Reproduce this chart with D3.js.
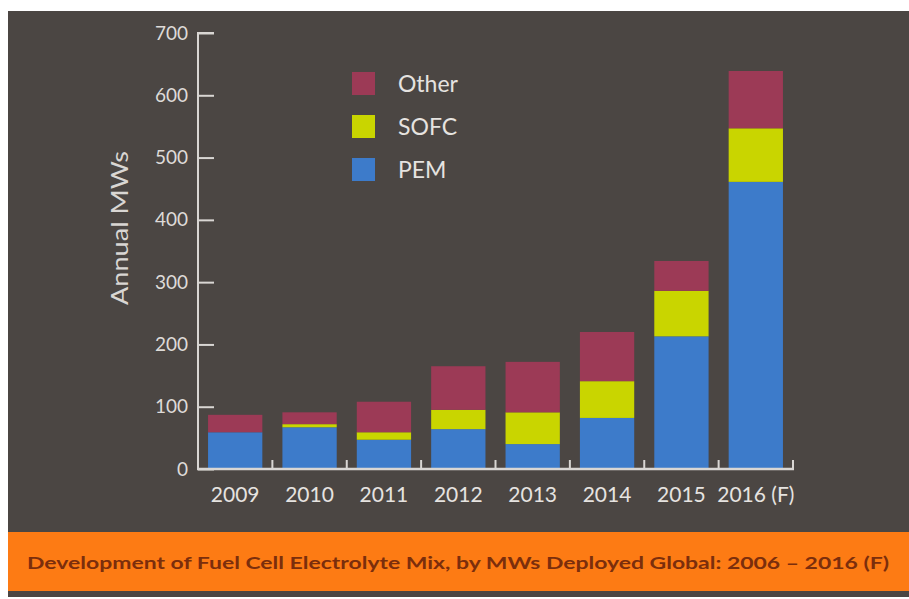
<!DOCTYPE html>
<html lang="en">
<head>
  <meta charset="utf-8">
  <title>Fuel Cell Electrolyte Mix</title>
  <script src="https://d3js.org/d3.v7.min.js"></script>
  <style type="text/css">
    body { margin: 0; background: #fff; }
    svg text { font-family: "Lato", "Open Sans", sans-serif; }
  </style>
</head>
<body>
  <div id="chart"></div>
  <script type="text/javascript">
    // data (MW per year)
    const years = ["2009", "2010", "2011", "2012", "2013", "2014", "2015", "2016 (F)"];
    const pem   = [59, 67, 47, 64, 40, 82, 213, 461];
    const sofc  = [0, 5, 12, 31, 51, 59, 73, 86];
    const other = [28, 19, 49, 70, 81, 79, 48, 92];
    const seriesNames = ["PEM", "SOFC", "Other"];
    const yTicks = [0, 100, 200, 300, 400, 500, 600, 700];
    const title = "Development of Fuel Cell Electrolyte Mix, by MWs Deployed Global: 2006 \u2013 2016 (F)";

    const w = 909, h = 599;
    const color = d3.scaleOrdinal()
        .domain(seriesNames)
        .range(["#3d7bca", "#c9d500", "#9c3a56"]);

    const rows = years.map((y, i) => ({ year: y, PEM: pem[i], SOFC: sofc[i], Other: other[i] }));
    const stacked = d3.stack().keys(seriesNames)(rows);

    const svg = d3.select("#chart").append("svg")
        .attr("width", w)
        .attr("height", h);

    // background panel + orange banner
    svg.append("rect").attr("x", 8).attr("y", 11).attr("width", w - 8).attr("height", 586)
        .attr("fill", "#4b4643");
    svg.append("rect").attr("x", 8).attr("y", 532).attr("width", w - 8).attr("height", 59)
        .attr("fill", "#fd7b14");

    const x = d3.scaleBand()
        .domain(years)
        .range([198, 793])
        .paddingInner(0.27)
        .paddingOuter(0.135);

    const y = d3.scaleLinear()
        .domain([0, 700])
        .range([469, 33]);

    // bars
    svg.selectAll("g.layer")
        .data(stacked)
        .enter().append("g")
        .attr("class", "layer")
        .attr("fill", d => color(d.key))
        .selectAll("rect")
        .data(d => d)
        .enter().append("rect")
        .attr("x", d => x(d.data.year))
        .attr("width", x.bandwidth())
        .attr("y", d => y(d[1]))
        .attr("height", d => y(d[0]) - y(d[1]));

    // y axis, ticks pointing inward
    const leftAxis = d3.axisRight(y).tickValues(yTicks).tickSize(16).tickPadding(-26);
    const gy = svg.append("g")
        .attr("transform", "translate(198,0)")
        .call(leftAxis);
    gy.selectAll("line, path").attr("stroke", "#d9d6d3").attr("stroke-width", 2);
    gy.select("path").attr("d", "M16,33H0V469");
    gy.selectAll("text")
        .attr("text-anchor", "end")
        .attr("fill", "#dedbd8")
        .style("font-size", "19px");

    // x axis, ticks between bands pointing up
    const gx = svg.append("g")
        .attr("transform", "translate(0,469)");
    gx.append("line")
        .attr("x1", 197).attr("x2", 794)
        .attr("stroke", "#d9d6d3").attr("stroke-width", 2.5);
    gx.selectAll("line.sep")
        .data(years)
        .enter().append("line")
        .attr("class", "sep")
        .attr("x1", (d, i) => 198 + x.step() * (i + 1))
        .attr("x2", (d, i) => 198 + x.step() * (i + 1))
        .attr("y1", 0).attr("y2", -9)
        .attr("stroke", "#d9d6d3").attr("stroke-width", 2);
    gx.selectAll("text")
        .data(years)
        .enter().append("text")
        .attr("x", d => x(d) + x.bandwidth() / 2)
        .attr("y", 33)
        .attr("text-anchor", "middle")
        .attr("fill", "#e6e3e0")
        .style("font-size", "21px")
        .text(d => d);

    // y label
    svg.append("text")
        .attr("transform", "translate(128,228) rotate(-90)")
        .attr("text-anchor", "middle")
        .attr("fill", "#d9d6d3")
        .attr("textLength", 154)
        .attr("lengthAdjust", "spacingAndGlyphs")
        .style("font-size", "24px")
        .text("Annual MWs");

    // legend
    const legend = svg.selectAll(".legend")
        .data(["Other", "SOFC", "PEM"])
        .enter().append("g")
        .attr("class", "legend")
        .attr("transform", (d, i) => `translate(352,${72 + i * 43})`);
    legend.append("rect")
        .attr("width", 23)
        .attr("height", 23)
        .attr("fill", d => color(d));
    legend.append("text")
        .attr("x", 46)
        .attr("y", 12)
        .attr("dy", ".35em")
        .attr("fill", "#e6e3e0")
        .style("font-size", "23px")
        .text(d => d);

    // banner title
    svg.append("text")
        .attr("x", 458)
        .attr("y", 563)
        .attr("dy", ".35em")
        .attr("text-anchor", "middle")
        .attr("fill", "#7b2e0c")
        .attr("textLength", 862)
        .attr("lengthAdjust", "spacingAndGlyphs")
        .style("font-size", "17px")
        .style("font-weight", "bold")
        .text(title);
  </script>
</body>
</html>
